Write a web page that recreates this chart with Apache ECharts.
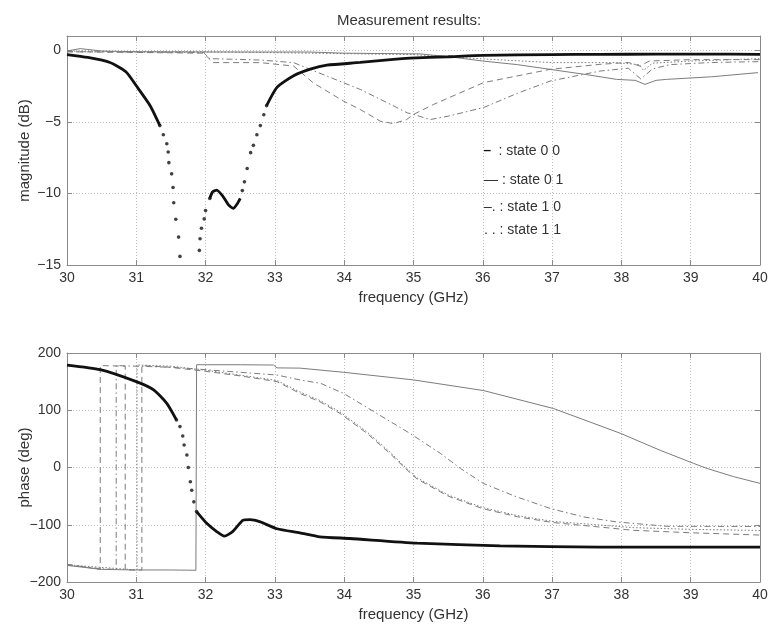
<!DOCTYPE html>
<html>
<head>
<meta charset="utf-8">
<script src="https://cdn.jsdelivr.net/npm/echarts@6/dist/echarts.min.js"></script>
<style>html,body{margin:0;padding:0;background:#fff}#c{width:770px;height:628px}</style>
</head>
<body>
<div id="c"></div>
<script>
// ---------- data (frequency GHz, value) ----------
const xTicks = [30,31,32,33,34,35,36,37,38,39,40];
const magTicks = [0,-5,-10,-15];
const phaseTicks = [200,100,0,-100,-200];
const legendLabels = ['state 0 0','state 0 1','state 1 0','state 1 1'];

// state 0 0 magnitude (thick, sampled dots)
const mag00LineA = [[30,-0.3],[30.3,-0.5],[30.62,-0.85],[30.85,-1.5],[31.0,-2.48],[31.2,-3.87],[31.34,-5.26]];
const mag00DotsA = [[31.34,-5.26],[31.39,-5.9],[31.44,-6.53],[31.46,-7.1],[31.47,-7.85],[31.51,-8.63],[31.53,-9.58],[31.54,-10.65],[31.57,-11.8],[31.61,-13.05],[31.63,-14.4]];
const mag00DotsB = [[31.91,-13.98],[31.92,-13.17],[31.94,-12.43],[31.98,-11.78],[32.0,-11.2],[32.06,-10.35]];
const mag00LineB = [[32.06,-10.35],[32.1,-9.9],[32.16,-9.77],[32.25,-10.2],[32.33,-10.8],[32.4,-11.05],[32.46,-10.7],[32.5,-10.35]];
const mag00DotsC = [[32.53,-9.8],[32.56,-9.19],[32.6,-8.26],[32.65,-7.15],[32.69,-6.64],[32.74,-5.9],[32.79,-5.26],[32.84,-4.5],[32.88,-3.87]];
const mag00LineC = [[32.88,-3.87],[33.03,-2.59],[33.27,-1.78],[33.51,-1.32],[33.75,-1.04],[34.23,-0.85],[34.71,-0.63],[34.95,-0.55],[35.5,-0.45],[36.0,-0.35],[37.0,-0.3],[37.69,-0.28],[38.5,-0.27],[39.2,-0.26],[40,-0.28]];

const magRef = [[30,-0.05],[30.19,0.12],[30.5,-0.05],[31,-0.1],[32,-0.12],[33.5,-0.12],[34,-0.2],[35.1,-0.25],[35.6,-0.5],[36.0,-0.75],[36.5,-1.0],[36.97,-1.33],[37.5,-1.7],[37.93,-2.03],[38.2,-2.1],[38.34,-2.38],[38.5,-2.1],[38.65,-2.03],[39.3,-1.85],[39.97,-1.56]];
const mag01 = [[30,-0.1],[31,-0.15],[31.97,-0.2],[32.11,-0.86],[32.79,-0.86],[33.27,-1.1],[33.55,-2.26],[33.75,-2.85],[33.99,-3.55],[34.23,-4.13],[34.52,-4.95],[34.71,-5.12],[34.9,-4.84],[35.0,-4.48],[35.29,-3.78],[36.01,-2.26],[36.97,-1.33],[37.69,-0.98],[38.1,-0.85],[38.27,-1.1],[38.4,-0.75],[39,-0.65],[40,-0.65]];
const mag10 = [[30,-0.1],[31,-0.12],[31.97,-0.15],[32.06,-0.58],[32.79,-0.68],[33.27,-0.86],[33.51,-1.33],[33.75,-1.8],[34.23,-2.73],[34.72,-3.9],[34.91,-4.37],[35.0,-4.48],[35.24,-4.84],[35.5,-4.6],[36.01,-4.0],[36.5,-3.0],[36.97,-2.15],[37.69,-1.45],[38.1,-1.25],[38.28,-2.0],[38.45,-1.3],[38.7,-1.0],[39.3,-0.85],[40,-0.79]];
const mag11 = [[30,-0.05],[31,-0.1],[32,-0.1],[33.5,-0.2],[35,-0.3],[36,-0.6],[37,-0.86],[37.93,-0.86],[38.25,-1.0],[38.32,-1.4],[38.45,-0.9],[39,-0.75],[40,-0.58]];

// phase
const ph00LineA = [[30,179],[30.48,171],[31.0,150],[31.25,135.6],[31.44,112],[31.58,83]];
const ph00Dots = [[31.58,83],[31.63,71.4],[31.67,55],[31.69,39.4],[31.73,21.9],[31.75,0],[31.78,-25],[31.8,-39.7],[31.83,-60],[31.87,-77]];
const ph00LineB = [[31.87,-77],[32.02,-98],[32.16,-112],[32.27,-120],[32.39,-112],[32.54,-92],[32.64,-91],[32.79,-95],[33.03,-107],[33.36,-114],[33.65,-121],[34.08,-124],[35.05,-132],[36.25,-137],[37.69,-139],[40,-139]];
const phRef = [[30,-171],[30.5,-178],[31.0,-179],[31.5,-179],[31.86,-179.5],[31.87,179.5],[32.5,179.5],[32.98,179],[33.03,174],[33.36,173.6],[33.99,166.3],[35.0,153],[36.01,134.4],[37.02,103],[37.98,60],[38.56,30],[39.04,7.3],[39.23,-1.4],[39.62,-16],[40,-27.7]];
const ph01 = [[30,-169],[30.48,-178],[30.48,178],[30.84,177],[30.84,-179],[31.08,-179],[31.08,178],[31.5,175],[32,168],[32.5,160],[33.03,150],[33.36,129.5],[33.65,114.8],[33.94,94.5],[34.33,59.5],[34.66,24.5],[34.86,1],[35.05,-20],[35.5,-50],[36.0,-72],[36.5,-86],[37.0,-96],[38.17,-109.7],[39,-114],[40,-118]];
const ph10 = [[30,-170],[30.5,-177],[30.71,-178],[30.71,178],[31.0,177],[31.5,175],[31.93,171.5],[33.03,161.5],[33.37,152.8],[33.66,147],[33.99,129.5],[34.47,94.5],[34.95,59.5],[35.39,24.5],[35.68,-1.8],[36.01,-28],[36.49,-51.4],[36.98,-71.8],[37.46,-86.4],[37.94,-95.2],[38.66,-102.7],[40,-103]];
const ph11 = [[30,-170],[31.01,-179],[31.01,179],[31.5,177],[32,170],[33.03,152],[33.36,132],[33.65,117],[33.94,97],[34.33,62],[34.66,27],[34.86,3],[35.05,-18],[35.5,-48],[36.0,-70],[36.5,-84],[37.0,-94],[38.17,-105],[39,-108],[40,-110]];

// ---------- styling ----------
const FONT = 'Liberation Sans';
const GRAY = '#7c7c7c';
const AX = '#8a8a8a';
const minus = v => String(v).replace('-', '\u2212');

function xAxes(grid) {
  return [
    { type:'value', gridIndex:grid, min:30, max:40, interval:1, position:'bottom',
      axisLine:{show:true,onZero:false,lineStyle:{color:AX}}, axisTick:{inside:true,length:5,lineStyle:{color:AX}},
      axisLabel:{color:'#333',fontFamily:FONT,fontSize:14,margin:6,formatter:v=>minus(v)},
      splitLine:{show:true,lineStyle:{color:'#bdbdbd',type:[1,2]}},
      name:'frequency (GHz)', nameLocation:'middle', nameGap:25, nameMoveOverlap:false,
      nameTextStyle:{color:'#333',fontFamily:FONT,fontSize:15} },
    { type:'value', gridIndex:grid, min:30, max:40, interval:1, position:'top',
      axisLine:{show:true,onZero:false,lineStyle:{color:AX}}, axisTick:{inside:true,length:5,lineStyle:{color:AX}},
      axisLabel:{show:false}, splitLine:{show:false} }
  ];
}
function yAxes(grid, min, max, interval, name) {
  return [
    { type:'value', gridIndex:grid, min, max, interval, position:'left',
      axisLine:{show:true,onZero:false,lineStyle:{color:AX}}, axisTick:{inside:true,length:5,lineStyle:{color:AX}},
      axisLabel:{color:'#333',fontFamily:FONT,fontSize:14,margin:6,
        formatter:v=> (v>max-0.001 && max%interval!==0) ? '' : minus(v)},
      splitLine:{show:true,lineStyle:{color:'#bdbdbd',type:[1,2]}},
      name, nameLocation:'middle', nameGap:35, nameMoveOverlap:false,
      nameTextStyle:{color:'#333',fontFamily:FONT,fontSize:15} },
    { type:'value', gridIndex:grid, min, max, interval, position:'right',
      axisLine:{show:true,onZero:false,lineStyle:{color:AX}}, axisTick:{inside:true,length:5,lineStyle:{color:AX}},
      axisLabel:{show:false}, splitLine:{show:false} }
  ];
}

function thin(data, xi, yi, type, color) {
  return { type:'line', data, xAxisIndex:xi, yAxisIndex:yi, showSymbol:false, symbol:'none',
    lineStyle:{color:color||GRAY, width:1, type}, z:2, animation:false, clip:true };
}
function thick(data, xi, yi) {
  return { type:'line', data, xAxisIndex:xi, yAxisIndex:yi, showSymbol:false, symbol:'none',
    smooth:0.2, lineStyle:{color:'#111', width:2.8}, z:4, animation:false, clip:true };
}
function dots(data, xi, yi) {
  return { type:'scatter', data, xAxisIndex:xi, yAxisIndex:yi, symbol:'circle', symbolSize:3.6,
    itemStyle:{color:'#111'}, z:4, animation:false, clip:true };
}

const chart = echarts.init(document.getElementById('c'), null, {renderer:'canvas'});
const legFont = '14px "Liberation Sans"';
chart.setOption({
  backgroundColor:'#fff',
  animation:false,
  title:{ text:'Measurement results:', left:404, top:8, textAlign:'center',
    textStyle:{color:'#333',fontFamily:FONT,fontSize:15,fontWeight:'normal'} },
  grid:[
    { left:67, top:36, width:693, height:229, containLabel:false, outerBoundsMode:'none' },
    { left:67, top:353, width:693, height:229, containLabel:false, outerBoundsMode:'none' }
  ],
  xAxis:[...xAxes(0), ...xAxes(1)],
  yAxis:[...yAxes(0,-15,1,5,'magnitude (dB)'), ...yAxes(1,-200,200,100,'phase (deg)')],
  series:[
    thin(magRef,0,0,'solid'),
    thin(mag11,0,0,[1.5,2]),
    thin(mag01,0,0,[6,4]),
    thin(mag10,0,0,[6,3,1.5,3]),
    thick(mag00LineA,0,0), dots(mag00DotsA,0,0), dots(mag00DotsB,0,0),
    thick(mag00LineB,0,0), dots(mag00DotsC,0,0), thick(mag00LineC,0,0),

    thin(phRef,2,2,'solid'),
    thin(ph11,2,2,[1.5,2]),
    thin(ph01,2,2,[6,4]),
    thin(ph10,2,2,[6,3,1.5,3]),
    thick(ph00LineA,2,2), dots(ph00Dots,2,2), thick(ph00LineB,2,2)
  ],
  graphic:[
    { type:'text', left:484, top:144, style:{ text:'{b|\u2012}  : '+legendLabels[0], fill:'#333', font:legFont,
      rich:{ b:{ fill:'#111', fontWeight:'bold', font:'bold 14px "Liberation Sans"' } } } },
    { type:'text', left:484, top:173, style:{ text:'\u2014 : '+legendLabels[1], fill:'#333', font:legFont } },
    { type:'text', left:484, top:200, style:{ text:'\u2013. : '+legendLabels[2], fill:'#333', font:legFont } },
    { type:'text', left:484, top:223, style:{ text:'. . : '+legendLabels[3], fill:'#333', font:legFont } }
  ]
});
</script>
</body>
</html>
